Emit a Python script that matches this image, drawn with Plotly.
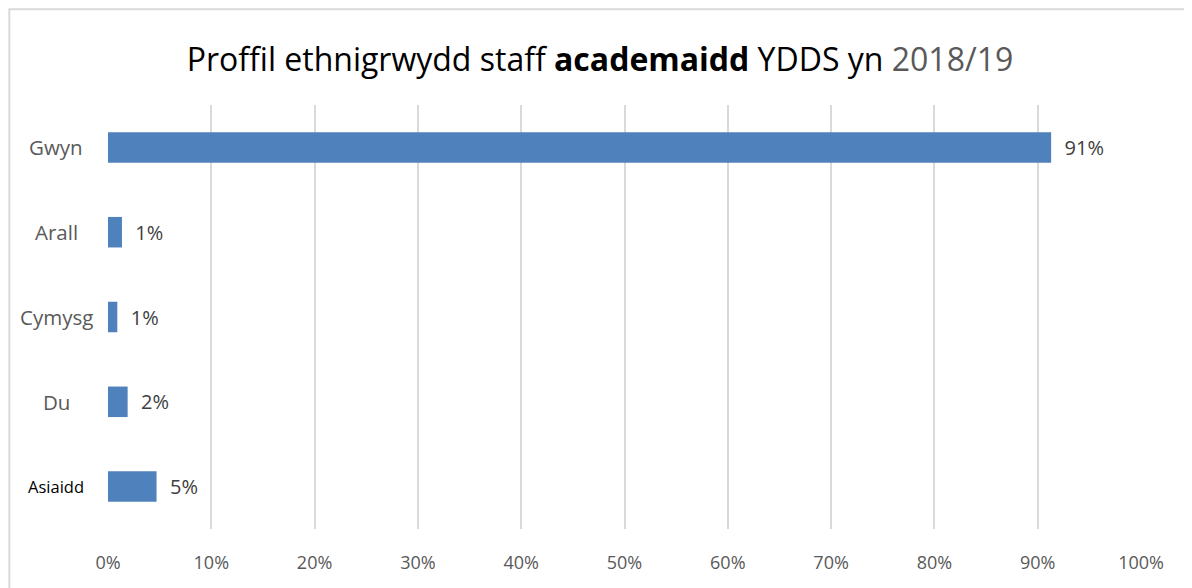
import plotly.graph_objects as go

# DATA ###########################################################################

categories = ['Gwyn', 'Arall', 'Cymysg', 'Du', 'Asiaidd']
shares = [0.913, 0.0135, 0.009, 0.019, 0.047]
x_ticks = [0.0, 0.1, 0.2, 0.3, 0.4, 0.5, 0.6, 0.7, 0.8, 0.9, 1.0]

title_plain = 'Proffil ethnigrwydd staff '
title_bold = 'academaidd'
title_rest = ' YDDS yn '
title_year = '2018/19'

FONT = 'Open Sans'
BAR_COLOUR = '#4f81bd'
GRID_COLOUR = '#d9d9d9'


# FIGURE #########################################################################

bar = go.Bar(x=shares,
             y=categories,
             orientation='h',
             width=0.36,
             marker=dict(color=BAR_COLOUR, line=dict(width=0)),
             texttemplate='  %{x:.0%}',
             textposition='outside',
             cliponaxis=False,
             textfont=dict(family=FONT, size=20, color='#404040'))

fig = go.Figure(data=[bar])

title_text = (title_plain + '<b>' + title_bold + '</b>' + title_rest +
              "<span style='color:#595959'>" + title_year + '</span>')

# the page adds an 8px body margin, so the figure is 8px smaller each way
fig.update_layout(width=1184,
                  height=580,
                  margin=dict(l=100, r=51, t=97, b=59),
                  paper_bgcolor='white',
                  plot_bgcolor='white',
                  showlegend=False,
                  font=dict(family=FONT, color='#595959'),
                  title=dict(text=title_text,
                             x=0.5, xref='container', xanchor='center',
                             y=0.91, yref='container', yanchor='middle',
                             font=dict(family=FONT, size=32, color='black')))

fig.update_xaxes(range=[0, 1],
                 tickvals=x_ticks,
                 tickformat='.0%',
                 showgrid=True,
                 gridcolor=GRID_COLOUR,
                 gridwidth=2,
                 zeroline=True,
                 zerolinecolor='rgba(0,0,0,0)',
                 showline=False,
                 ticks='',
                 ticklabelstandoff=21,
                 tickfont=dict(family=FONT, size=18, color='#595959'))

fig.update_yaxes(categoryorder='array',
                 categoryarray=categories[::-1],
                 showticklabels=False,
                 showgrid=False,
                 zeroline=False,
                 ticks='')

# category labels, roughly centred in the left gutter as in the original
for cat in categories:
    small = cat == 'Asiaidd'
    fig.add_annotation(x=-0.05, xref='paper', xanchor='center',
                       y=cat, yref='y', yanchor='middle',
                       text=cat, showarrow=False,
                       font=dict(family=FONT,
                                 size=16.5 if small else 20.5,
                                 color='black' if small else '#595959'))

# thin grey chart frame (left and top edges are visible)
fig.add_shape(type='rect', xref='paper', yref='paper',
              x0=-0.0955, x1=1.2, y0=-0.3, y1=1.226,
              line=dict(color='#d9d9d9', width=2), layer='below')

fig.write_html('out.html')
